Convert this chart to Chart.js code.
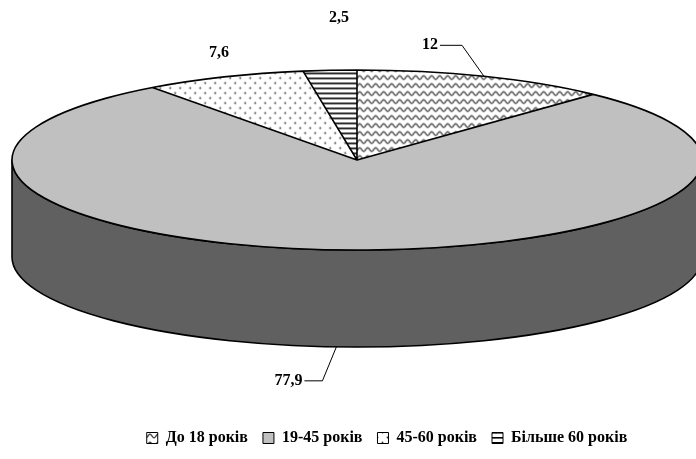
<!DOCTYPE html>
<html>
<head>
<meta charset="utf-8">
<script src="https://cdn.jsdelivr.net/npm/chart.js@4.4.1/dist/chart.umd.min.js"></script>
<style>
  html, body { margin: 0; padding: 0; background: #ffffff; }
  #wrap { width: 696px; height: 459px; }
</style>
</head>
<body>
<div id="wrap"><canvas id="c" width="696" height="459"></canvas></div>
<script>
// Age groups and their shares, %
const categories = ['До 18 років', '19-45 років', '45-60 років', 'Більше 60 років'];
const shares = [12, 77.9, 7.6, 2.5];
const valueLabels = ['12', '77,9', '7,6', '2,5'];

// Tilted-disc geometry (centre, semi-axes, wall height)
const DISC = { cx: 357, cy: 160, rx: 345, ry: 90, depth: 97 };
// Label placement relative to each slice's rim anchor, and leader stub length
const labelOffsets = [[-54, -31], [-48, 34], [-5, -24], [9, -52]];
const leaderStubs = [22, 18, 0, 0];

const FONT = '"Liberation Serif", "Times New Roman", serif';

function makeTile(w, h, paint) {
  const t = document.createElement('canvas');
  t.width = w; t.height = h;
  const g = t.getContext('2d');
  g.fillStyle = '#ffffff';
  g.fillRect(0, 0, w, h);
  paint(g);
  return t;
}
const waveTile = makeTile(8, 8, g => {
  g.strokeStyle = '#444444';
  g.lineWidth = 1.3;
  g.beginPath();
  for (let x = -1; x <= 9; x += 0.5) {
    const y = 4 + 1.8 * Math.sin(2 * Math.PI * x / 8);
    if (x === -1) g.moveTo(x, y); else g.lineTo(x, y);
  }
  g.stroke();
});
const dotTile = makeTile(10, 10, g => {
  g.fillStyle = '#333333';
  [[2.5, 2.5], [7.5, 7.5]].forEach(([x, y]) => {
    g.beginPath(); g.arc(x, y, 0.9, 0, Math.PI * 2); g.fill();
  });
});
const lineTile = makeTile(6, 5, g => {
  g.fillStyle = '#000000';
  g.fillRect(0, 2, 6, 1.6);
});
const greyTile = makeTile(2, 2, g => { g.fillStyle = '#c0c0c0'; g.fillRect(0, 0, 2, 2); });

const canvas = document.getElementById('c');
const ctx0 = canvas.getContext('2d');
const tiles = [waveTile, greyTile, dotTile, lineTile];
const slicePatterns = tiles.map(t => ctx0.createPattern(t, 'repeat'));
const legendPatterns = tiles.map(t => ctx0.createPattern(t, 'repeat'));
const sideColors = ['#7a7a7a', '#606060', '#7a7a7a', '#303030'];

function discPoint(angle, drop) {
  return {
    x: DISC.cx + DISC.rx * Math.cos(angle),
    y: DISC.cy + DISC.ry * Math.sin(angle) + (drop || 0)
  };
}

const discPlugin = {
  id: 'disc3d',
  beforeDatasetsDraw(chart) {
    const ctx = chart.ctx;
    const arcs = chart.getDatasetMeta(0).data;
    const ref = arcs[0];
    // visible front wall, per slice
    ctx.save();
    ctx.lineWidth = 1.6;
    ctx.strokeStyle = '#000000';
    ctx.lineJoin = 'round';
    arcs.forEach((arc, i) => {
      const a0 = Math.max(arc.startAngle, 0);
      const a1 = Math.min(arc.endAngle, Math.PI);
      if (a1 <= a0) return;
      const p0 = discPoint(a0, 0);
      const p1 = discPoint(a1, DISC.depth);
      ctx.beginPath();
      ctx.moveTo(p0.x, p0.y);
      ctx.ellipse(DISC.cx, DISC.cy, DISC.rx, DISC.ry, 0, a0, a1, false);
      ctx.lineTo(p1.x, p1.y);
      ctx.ellipse(DISC.cx, DISC.cy + DISC.depth, DISC.rx, DISC.ry, 0, a1, a0, true);
      ctx.closePath();
      ctx.fillStyle = sideColors[i];
      ctx.fill();
      ctx.stroke();
    });
    ctx.restore();
    // squash the library's circle onto the disc top
    const sx = DISC.rx / ref.outerRadius, sy = DISC.ry / ref.outerRadius;
    slicePatterns.forEach(p => p.setTransform(new DOMMatrix().scale(1 / sx, 1 / sy)));
    ctx.save();
    ctx.translate(DISC.cx, DISC.cy);
    ctx.scale(sx, sy);
    ctx.translate(-ref.x, -ref.y);
  },
  afterDatasetsDraw(chart) {
    const ctx = chart.ctx;
    const arcs = chart.getDatasetMeta(0).data;
    ctx.beginPath();
    arcs.forEach(arc => {
      ctx.moveTo(arc.x, arc.y);
      ctx.arc(arc.x, arc.y, arc.outerRadius, arc.startAngle, arc.endAngle);
      ctx.closePath();
    });
    ctx.restore();
    ctx.save();
    ctx.lineWidth = 1.6;
    ctx.strokeStyle = '#000000';
    ctx.lineJoin = 'round';
    ctx.stroke();

    // value labels with leader lines
    ctx.font = 'bold 16px ' + FONT;
    ctx.fillStyle = '#000000';
    ctx.textAlign = 'center';
    ctx.textBaseline = 'middle';
    ctx.lineWidth = 1;
    arcs.forEach((arc, i) => {
      const mid = (arc.startAngle + arc.endAngle) / 2;
      const front = Math.sin(mid) > 0 ? DISC.depth : 0;
      const a = discPoint(mid, front);
      const tx = a.x + labelOffsets[i][0];
      const ty = a.y + labelOffsets[i][1];
      ctx.fillText(valueLabels[i], tx, ty);
      if (leaderStubs[i] > 0) {
        const w = ctx.measureText(valueLabels[i]).width;
        const lx = tx + w / 2 + 2;
        ctx.beginPath();
        ctx.moveTo(lx, ty);
        ctx.lineTo(lx + leaderStubs[i], ty);
        ctx.lineTo(a.x, a.y);
        ctx.stroke();
      }
    });
    ctx.restore();
  }
};

new Chart(canvas, {
  type: 'pie',
  data: {
    labels: categories,
    datasets: [{
      data: shares,
      backgroundColor: slicePatterns,
      borderWidth: 0,
      clip: false
    }]
  },
  options: {
    responsive: false,
    animation: false,
    events: [],
    layout: { padding: { top: 10, bottom: 3, left: 78, right: 0 } },
    plugins: {
      tooltip: { enabled: false },
      legend: {
        position: 'bottom',
        labels: {
          color: '#000000',
          font: { family: FONT, size: 16, weight: 'bold' },
          boxWidth: 11,
          boxHeight: 11,
          padding: 15,
          generateLabels: chart => categories.map((name, i) => ({
            text: name,
            fillStyle: legendPatterns[i],
            strokeStyle: '#000000',
            lineWidth: 1,
            hidden: false,
            index: i,
            datasetIndex: 0
          }))
        }
      }
    }
  },
  plugins: [discPlugin]
});
</script>
</body>
</html>
